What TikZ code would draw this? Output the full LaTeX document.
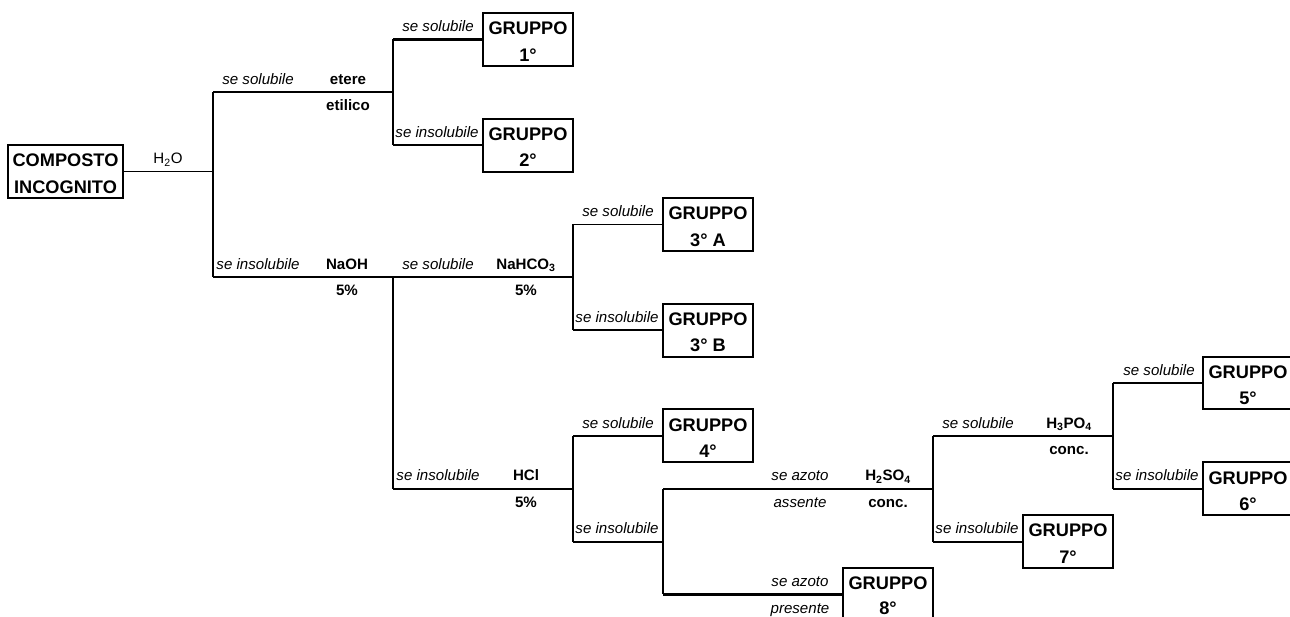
\documentclass[tikz,border=0pt]{standalone}
\usepackage{fontspec}
\setmainfont{Liberation Sans}
\begin{document}
\begin{tikzpicture}[x=1pt,y=-1pt,
  lab/.style={inner sep=0pt, text height=10.8pt, text depth=0pt, font=\fontsize{15.1}{16}\selectfont\itshape},
  plainlab/.style={inner sep=0pt, text height=10.8pt, text depth=0pt, font=\fontsize{15.1}{16}\selectfont},
  chem/.style={inner sep=0pt, text height=10.8pt, text depth=0pt, font=\fontsize{15.1}{16}\selectfont\bfseries},
  btxt/.style={inner sep=0pt, text height=13pt, text depth=0pt, font=\fontsize{18.2}{20}\selectfont\bfseries, yshift=-2pt},
  box/.style={draw, line width=2pt, inner sep=0pt, minimum width=90pt, minimum height=52.86pt},
  lnthin/.style={line width=1.3pt},
  lnmid/.style={line width=1.8pt},
  lnthick/.style={line width=2.2pt}]
\useasboundingbox (0,0) rectangle (1290,617);

% ---- boxes
\node[box, minimum width=115pt] (comp) at (65.5,171.58) {};
\node[btxt] (compa) at (65.5,158.4) {COMPOSTO};
\node[btxt] (compb) at (65.5,184.8) {INCOGNITO};

\node[box] (g1) at (528,39.43) {};
\node[btxt] (g1a) at (528,26.2) {GRUPPO};
\node[btxt] (g1b) at (528,52.6) {1°};

\node[box] (g2) at (528,145.15) {};
\node[btxt] (g2a) at (528,131.9) {GRUPPO};
\node[btxt] (g2b) at (528,158.4) {2°};

\node[box] (g3a) at (708,224.44) {};
\node[btxt] (g3aa) at (708,211.2) {GRUPPO};
\node[btxt] (g3ab) at (708,237.7) {3° A};

\node[box] (g3b) at (708,330.16) {};
\node[btxt] (g3ba) at (708,316.9) {GRUPPO};
\node[btxt] (g3bb) at (708,343.4) {3° B};

\node[box] (g4) at (708,435.88) {};
\node[btxt] (g4a) at (708,422.7) {GRUPPO};
\node[btxt] (g4b) at (708,449.1) {4°};

\node[box] (g5) at (1248,383.02) {};
\node[btxt] (g5a) at (1248,369.8) {GRUPPO};
\node[btxt] (g5b) at (1248,396.2) {5°};

\node[box] (g6) at (1248,488.74) {};
\node[btxt] (g6a) at (1248,475.5) {GRUPPO};
\node[btxt] (g6b) at (1248,502.0) {6°};

\node[box] (g7) at (1068,541.6) {};
\node[btxt] (g7a) at (1068,528.4) {GRUPPO};
\node[btxt] (g7b) at (1068,554.8) {7°};

\node[box] (g8) at (888,594.46) {};
\node[btxt] (g8a) at (888,581.2) {GRUPPO};
\node[btxt, yshift=1.5pt] (g8b) at (888,607.7) {8°};

% ---- junctions
\coordinate (jA) at (213,171.58);
\coordinate (jA1) at (213,92.29);
\coordinate (jA2) at (213,277.3);
\coordinate (jB) at (393,92.29);
\coordinate (jB1) at (393,39.43);
\coordinate (jB2) at (393,145.15);
\coordinate (jC) at (573,277.3);
\coordinate (jC1) at (573,224.44);
\coordinate (jC2) at (573,330.16);
\coordinate (jD) at (393,277.3);
\coordinate (jD2) at (393,488.74);
\coordinate (jE) at (573,488.74);
\coordinate (jE1) at (573,435.88);
\coordinate (jE2) at (573,541.6);
\coordinate (jF) at (663,541.6);
\coordinate (jF1) at (663,488.74);
\coordinate (jF2) at (663,594.46);
\coordinate (jG) at (933,488.74);
\coordinate (jG1) at (933,435.88);
\coordinate (jG2) at (933,541.6);
\coordinate (jH) at (1113,435.88);
\coordinate (jH1) at (1113,383.02);
\coordinate (jH2) at (1113,488.74);

% ---- connectors
\draw[lnthin] (comp.east) -- (jA);
\draw[lnthin] (jA1) -- (jA2);
\draw[lnmid] (jA1) -- (jB);
\draw[lnthick] (jB1) -- (jB2);
\draw[lnthick] (jB1) -- (g1.west);
\draw[lnthick] (jB2) -- (g2.west);
\draw[lnthick] (jA2) -- (jC);
\draw[lnthick] (jD) -- (jD2);
\draw[lnthin] (jC1) -- (jC2);
\draw[lnthin] (jC1) -- (g3a.west);
\draw[lnmid] (jC2) -- (g3b.west);
\draw[lnthick] (jD2) -- (jE);
\draw[lnthick] (jE1) -- (jE2);
\draw[lnthick] (jE1) -- (g4.west);
\draw[lnthick] (jE2) -- (jF);
\draw[lnthick] (jF1) -- (jF2);
\draw[lnthick] (jF1) -- (jG);
\draw[lnthick] (jF2) -- (g8.west);
\draw[lnthick] (jG1) -- (jG2);
\draw[lnthick] (jG2) -- (g7.west);
\draw[lnthick] (jG1) -- (jH);
\draw[lnmid] (jH1) -- (jH2);
\draw[lnmid] (jH1) -- (g5.west);
\draw[lnmid] (jH2) -- (g6.west);

% ---- labels
\node[plainlab] (h2o) at (168,158.4) {H\textsubscript{2}O};
\node[lab] (l1) at (258,79.1) {se solubile};
\node[chem] (et1) at (348,79.1) {etere};
\node[chem] (et2) at (348,105.5) {etilico};
\node[lab] (l2) at (438,26.2) {se solubile};
\node[lab] (l3) at (437,131.9) {se insolubile};

\node[lab] (l4) at (258,264.1) {se insolubile};
\node[chem] (naoh) at (347,264.1) {NaOH};
\node[chem] (naoh5) at (347,290.5) {5\%};
\node[lab] (l5) at (438,264.1) {se solubile};
\node[chem] (nahco) at (526,264.1) {NaHCO\textsubscript{3}};
\node[chem] (nahco5) at (526,290.5) {5\%};
\node[lab] (l6) at (618,211.2) {se solubile};
\node[lab] (l7) at (617,316.9) {se insolubile};

\node[lab] (l8) at (438,475.5) {se insolubile};
\node[chem] (hcl) at (526,475.5) {HCl};
\node[chem] (hcl5) at (526,502.0) {5\%};
\node[lab] (l9) at (618,422.7) {se solubile};
\node[lab] (l10) at (617,528.4) {se insolubile};

\node[lab] (l11) at (800,475.5) {se azoto};
\node[lab] (l12) at (800,502.0) {assente};
\node[chem] (hso) at (888,475.5) {H\textsubscript{2}SO\textsubscript{4}};
\node[chem] (hsoc) at (888,502.0) {conc.};
\node[lab] (l13) at (800,581.2) {se azoto};
\node[lab] (l14) at (800,607.7) {presente};

\node[lab] (l15) at (978,422.7) {se solubile};
\node[chem] (hpo) at (1069,422.7) {H\textsubscript{3}PO\textsubscript{4}};
\node[chem] (hpoc) at (1069,449.1) {conc.};
\node[lab] (l16) at (977,528.4) {se insolubile};
\node[lab] (l17) at (1159,369.8) {se solubile};
\node[lab] (l18) at (1157,475.5) {se insolubile};
\end{tikzpicture}
\end{document}
